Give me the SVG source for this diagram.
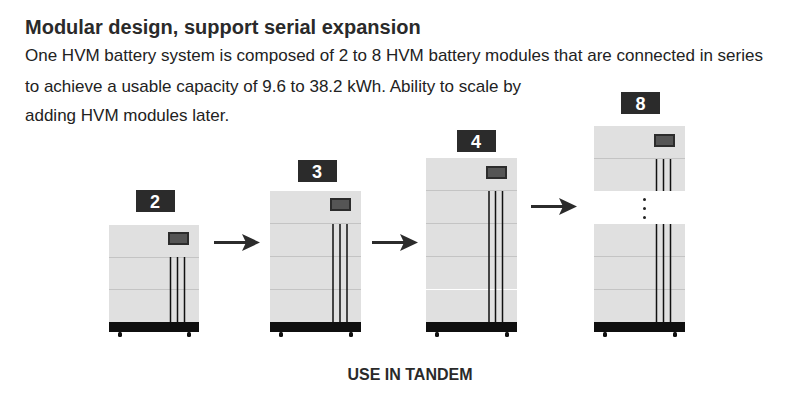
<svg xmlns="http://www.w3.org/2000/svg" width="800" height="403" viewBox="0 0 800 403">
<style>
text{font-family:"Liberation Sans",Arial,sans-serif}
.t{font-size:17px;fill:#222}
.h{font-size:20px;font-weight:bold;fill:#2a2a2a}
.n{font-size:18px;font-weight:bold;fill:#fff;text-anchor:middle}
.b{fill:#e0e0e0}
.s{stroke:#c4c4c4;stroke-width:1}
.w{stroke:#111;stroke-width:1.5}
.f{fill:#0f0f0f}
.tag{fill:#2b2b2b}
.d{fill:#555;stroke:#2c2c2c;stroke-width:2}
.a{stroke:#2b2b2b;stroke-width:3}
.ah{fill:#2b2b2b}
</style>
<rect width="800" height="403" fill="#fff"/>
<text class="h" x="25" y="34">Modular design, support serial expansion</text>
<text class="t" x="25" y="61">One HVM battery system is composed of 2 to 8 HVM battery modules that are connected in series</text>
<text class="t" x="25" y="92">to achieve a usable capacity of 9.6 to 38.2 kWh. Ability to scale by</text>
<text class="t" x="25" y="121">adding HVM modules later.</text>
<g id="node-2">
<rect class="tag" x="136" y="190" width="39" height="22"/><text class="n" x="155" y="207.500">2</text>
<rect class="b" x="109" y="225" width="90" height="97"/>
<path class="s" d="M109 257.500H199M109 289.500H199"/>
<rect class="d" x="169" y="233" width="19" height="11"/>
<path class="w" d="M170.500 257V322M177.500 257V322M184.500 257V322"/>
<rect class="f" x="109" y="322" width="90" height="10"/>
<rect class="f" x="118" y="332" width="4" height="5" rx="1.500"/><rect class="f" x="187" y="332" width="4" height="5" rx="1.500"/>
</g>
<g id="node-3">
<rect class="tag" x="298" y="160" width="39" height="22"/><text class="n" x="317" y="177.500">3</text>
<rect class="b" x="270" y="191" width="91" height="131"/>
<path class="s" d="M270 223.500H361M270 256.500H361M270 289.500H361"/>
<rect class="d" x="331" y="199" width="19" height="11"/>
<path class="w" d="M333 224V322M340 224V322M347 224V322"/>
<rect class="f" x="270" y="322" width="91" height="10"/>
<rect class="f" x="279" y="332" width="4" height="5" rx="1.500"/><rect class="f" x="349" y="332" width="4" height="5" rx="1.500"/>
</g>
<g id="node-4">
<rect class="tag" x="457" y="130" width="39" height="22"/><text class="n" x="476" y="147.500">4</text>
<rect class="b" x="426" y="158" width="91" height="164"/>
<path class="s" d="M426 190.500H517M426 223.500H517M426 256.500H517"/>
<path d="M426 289.500H517" stroke="#fff" stroke-width="1"/>
<rect class="d" x="487" y="167" width="19" height="11"/>
<path class="w" d="M489 191V322M495.500 191V322M502.500 191V322"/>
<rect class="f" x="426" y="322" width="91" height="10"/>
<rect class="f" x="435" y="332" width="4" height="5" rx="1.500"/><rect class="f" x="505" y="332" width="4" height="5" rx="1.500"/>
</g>
<g id="node-8">
<rect class="tag" x="621" y="92" width="39" height="22"/><text class="n" x="640.500" y="109.500">8</text>
<rect class="b" x="594" y="126" width="91" height="65"/>
<rect class="b" x="594" y="224" width="91" height="98"/>
<path class="s" d="M594 158.500H685M594 256.500H685M594 289.500H685"/>
<rect class="d" x="655" y="135" width="19" height="11"/>
<path class="w" d="M656.500 159V191M663.500 159V191M670.500 159V191M656.500 224V322M663.500 224V322M670.500 224V322"/>
<circle cx="644.500" cy="199.500" r="1.500" fill="#222"/><circle cx="644.500" cy="208.500" r="1.500" fill="#222"/><circle cx="644.500" cy="217.500" r="1.500" fill="#222"/>
<rect class="f" x="594" y="322" width="91" height="10"/>
<rect class="f" x="603" y="332" width="4" height="5" rx="1.500"/><rect class="f" x="673" y="332" width="4" height="5" rx="1.500"/>
</g>
<g id="connectors">
<path class="a" d="M214 242.500H246"/><path class="ah" d="M242 234L260 242.500L242 251L246 242.500Z"/>
<path class="a" d="M372 242.500H404"/><path class="ah" d="M400 234L418 242.500L400 251L404 242.500Z"/>
<path class="a" d="M531 206.500H563"/><path class="ah" d="M559 198L577 206.500L559 215L563 206.500Z"/>
</g>
<text x="410" y="380" text-anchor="middle" font-size="16" font-weight="bold" fill="#2a2a2a">USE IN TANDEM</text>
</svg>
